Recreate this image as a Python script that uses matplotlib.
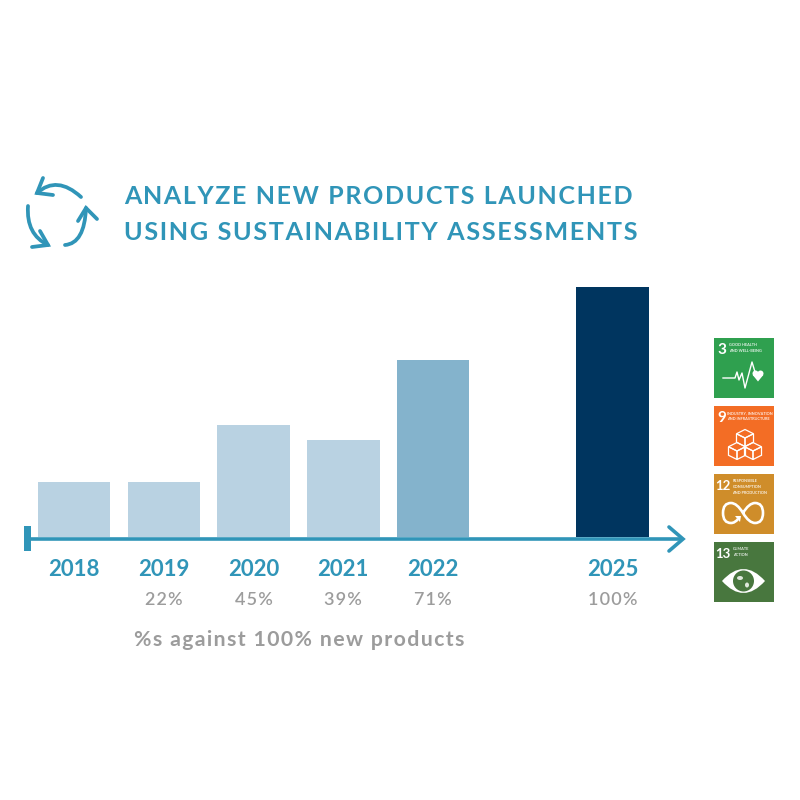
import matplotlib
matplotlib.use("Agg")
import matplotlib.pyplot as plt
from matplotlib.patches import Rectangle, PathPatch, Polygon, Circle, Ellipse
from matplotlib.path import Path

plt.rcParams['font.family'] = ['Lato', 'DejaVu Sans']

years = ['2018', '2019', '2020', '2021', '2022', '2025']
slots = [0, 1, 2, 3, 4, 6]
values = [22, 22, 45, 39, 71, 100]
pct_labels = ['', '22%', '45%', '39%', '71%', '100%']
bar_colors = ['#b9d2e2', '#b9d2e2', '#b9d2e2', '#b9d2e2', '#84b3cc', '#00355f']
title_lines = ['ANALYZE NEW PRODUCTS LAUNCHED', 'USING SUSTAINABILITY ASSESSMENTS']
footnote = '%s against 100% new products'
TEAL = '#3095b8'
GREY = '#9c9c9c'

W = 800
fig = plt.figure(figsize=(8, 8), dpi=100, facecolor='white')

ov = fig.add_axes([0, 0, 1, 1], zorder=2)
ov.set_xlim(0, W); ov.set_ylim(W, 0); ov.axis('off'); ov.patch.set_alpha(0)

L, R, T, B = 20, 690, 287, 537
ax = fig.add_axes([L / W, 1 - B / W, (R - L) / W, (B - T) / W], zorder=1)
step = 89.75
ax.set_xlim((L - 74) / step, (R - 74) / step)
ax.set_ylim(0, 100)
ax.axis('off')
ax.bar(slots, values, width=72.5 / step, color=bar_colors, linewidth=0)


def spaced(s):
    return '\u200a'.join(s)


for line, y, fs in zip(title_lines, [197, 232], [17.97, 18.18]):
    ov.text(124, y, spaced(line), color=TEAL, fontsize=fs, weight='bold', va='center', ha='left')

for s, y, lab in zip(slots, years, pct_labels):
    cx = 74 + s * step
    ov.text(cx, 570, y, color=TEAL, fontsize=16, weight='bold', ha='center', va='center')
    if lab:
        ov.text(cx, 600, spaced(lab), color=GREY, fontsize=13, weight='semibold', ha='center', va='center')
ov.text(134, 640, spaced(footnote), color=GREY, fontsize=15.3, weight='bold', ha='left', va='center')

ov.plot([26, 682], [539, 539], color=TEAL, lw=2.6, solid_capstyle='butt')
ov.add_patch(Rectangle((24, 526), 6.5, 24.5, color=TEAL, lw=0))
ov.plot([669, 683, 669], [527, 539, 551], color=TEAL, lw=2.6, solid_joinstyle='miter', solid_capstyle='round')


def curve(p0, c, p1, head):
    ov.add_patch(PathPatch(Path([p0, c, p1], [Path.MOVETO, Path.CURVE3, Path.CURVE3]),
                           fc='none', ec=TEAL, lw=2.7, capstyle='round'))
    ov.plot([head[0][0], p1[0], head[1][0]], [head[0][1], p1[1], head[1][1]],
            color=TEAL, lw=2.7, solid_capstyle='round', solid_joinstyle='miter')


curve((81, 197), (57, 175), (37, 193), [(43, 178), (53, 195)])
curve((28, 206), (26, 234.5), (48, 245), [(40, 231), (32, 247)])
curve((65, 245), (84.5, 243.5), (86, 208), [(78, 221), (97, 219)])

tiles = [
    (338, '#2fa04f', '3', 'GOOD HEALTH\nAND WELL-BEING', 15),
    (406, '#f36d25', '9', 'INDUSTRY, INNOVATION\nAND INFRASTRUCTURE', 13),
    (474, '#cf8d2a', '12', 'RESPONSIBLE\nCONSUMPTION\nAND PRODUCTION', 18.5),
    (542, '#48773e', '13', 'CLIMATE\nACTION', 19),
]
X0 = 714
for y0, col, num, txt, tx in tiles:
    ov.add_patch(Rectangle((X0, y0), 60, 60, color=col, lw=0))
    ov.text(X0 + (8 if len(num) == 1 else 9), y0 + 12, num, color='white',
            fontsize=11 if len(num) == 1 else 9.5, weight='bold', ha='center', va='center')
    ov.text(X0 + tx, y0 + 5, txt, color='#ffffffd9', fontsize=2.8, weight='bold',
            ha='left', va='top', linespacing=1.75)

# tile 3: pulse and heart
ov.plot([723, 735, 737, 739, 742, 745, 752, 755],
        [378, 378, 372, 380, 373, 388, 362, 372], color='white', lw=1.0)
ov.add_patch(Circle((755.5, 373.5), 3, color='white', lw=0))
ov.add_patch(Circle((760.5, 373.5), 3, color='white', lw=0))
ov.add_patch(Polygon([(752.7, 375), (763.3, 375), (758, 381.5)], color='white', lw=0))


def cube(cx, cy, s=8.5):
    for pts in ([(cx, cy - s), (cx + s, cy - s / 2), (cx, cy), (cx - s, cy - s / 2)],
                [(cx - s, cy - s / 2), (cx, cy), (cx, cy + s), (cx - s, cy + s / 2)],
                [(cx + s, cy - s / 2), (cx, cy), (cx, cy + s), (cx + s, cy + s / 2)]):
        ov.add_patch(Polygon(pts, fc='none', ec='white', lw=0.9))


cube(745, 438)
cube(737, 451)
cube(753, 451)

# tile 12: infinity
ov.add_patch(PathPatch(Path(
    [(743, 513), (749, 503), (755, 503), (763, 503), (763, 513),
     (763, 523), (755, 523), (749, 523), (743, 513),
     (737, 503), (731, 503), (723, 503), (723, 513),
     (723, 523), (731, 523), (735, 523), (738, 519)],
    [Path.MOVETO] + [Path.CURVE3] * 16), fc='none', ec='white', lw=1.9))
ov.add_patch(Polygon([(735, 516), (741, 516), (740, 522)], color='white', lw=0))

# tile 13: eye and globe
ov.add_patch(PathPatch(Path(
    [(722, 581), (743.5, 557), (765, 581), (743.5, 605), (722, 581)],
    [Path.MOVETO, Path.CURVE3, Path.CURVE3, Path.CURVE3, Path.CURVE3]), fc='white', ec='none'))
ov.add_patch(Circle((743.5, 581), 10.5, color='#48773e', lw=0))
ov.add_patch(Ellipse((740, 578), 6, 4, color='#dfe8dc', lw=0))
ov.add_patch(Ellipse((747, 585), 4, 5, color='#dfe8dc', lw=0))

fig.savefig('out.png', dpi=100, facecolor='white')
